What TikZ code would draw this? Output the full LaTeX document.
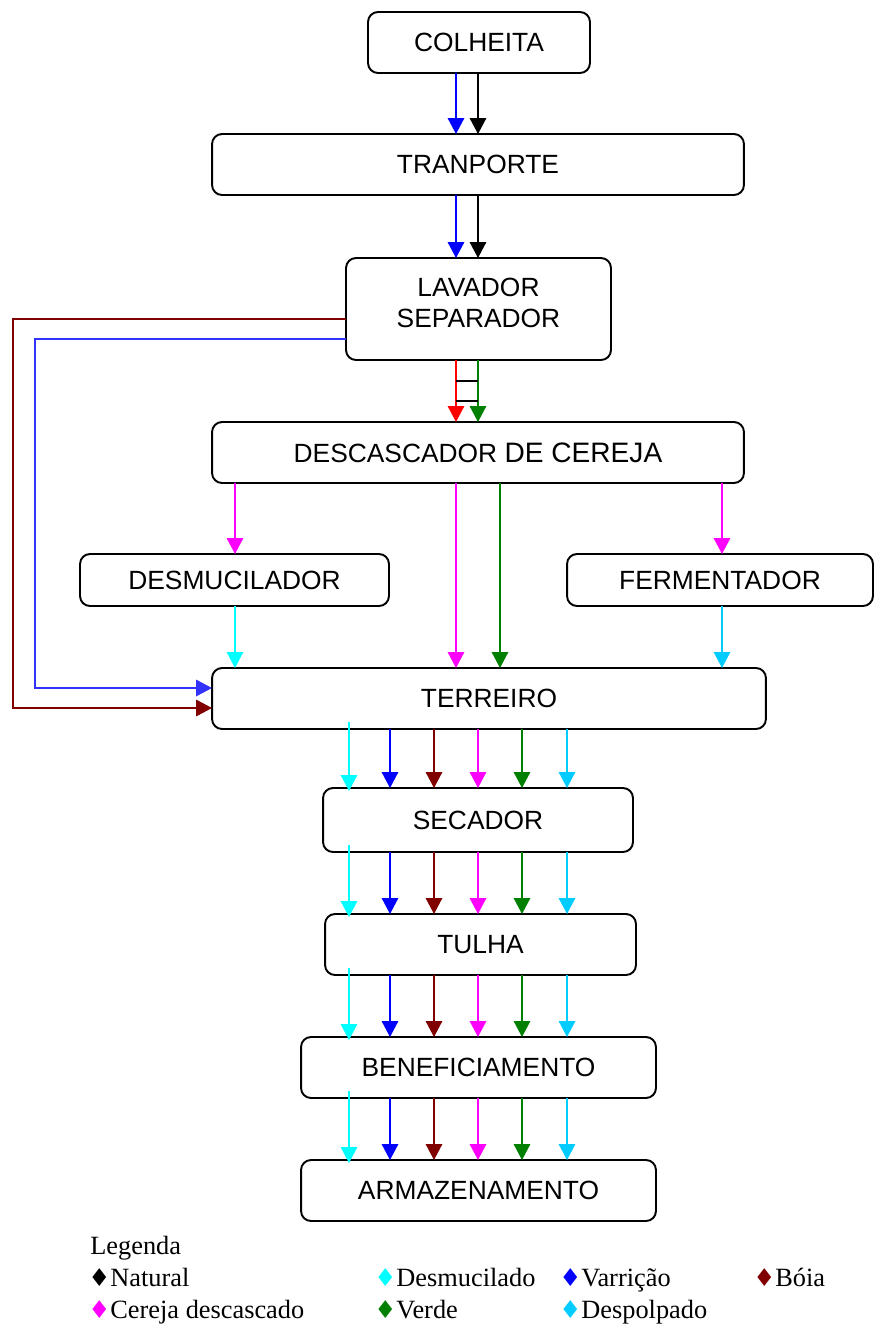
\documentclass[tikz,border=0pt]{standalone}
\usepackage{fontspec}
\setmainfont{Liberation Serif}
\newfontfamily\boxfont{Liberation Sans}
\newfontfamily\dejavufont{DejaVu Sans}
\usepackage{xcolor}
\definecolor{cf_natural}{RGB}{0, 0, 0}
\definecolor{cf_desmuc}{RGB}{0, 255, 255}
\definecolor{cf_varricao}{RGB}{0, 0, 255}
\definecolor{cf_boia}{RGB}{128, 0, 0}
\definecolor{cf_cereja}{RGB}{255, 0, 255}
\definecolor{cf_verde}{RGB}{0, 128, 0}
\definecolor{cf_despolpa}{RGB}{0, 204, 255}
\definecolor{cf_vermelho}{RGB}{255, 0, 0}
\usetikzlibrary{arrows.meta}
\newcommand{\losango}[1]{{\dejavufont\fontsize{14}{14}\selectfont\textcolor{#1}{♦}}}

\begin{document}
\begin{tikzpicture}[x=0.02cm, y=-0.02cm,
        caixa/.style={draw, line width=1.1pt, rounded corners=0.2cm,
                      inner sep=0pt, outer sep=0pt, align=center,
                      font=\boxfont\fontsize{15}{17.6}\selectfont},
        seta/.style={-{Triangle[length=0.32cm, width=0.33cm]}, line width=0.9pt},
        ovr/.style={shorten <=-0.14cm, shorten >=-0.06cm},
        sem/.style={},
        leg/.style={anchor=base west, inner sep=0pt,
                    font=\fontsize{15}{18}\selectfont}]
        \useasboundingbox (0,0) rectangle (874,1326);
        % Caixas
        \node[caixa, minimum width=4.44cm, minimum height=1.22cm] (colheita) at (479,42.5) {COLHEITA};
        \node[caixa, minimum width=10.64cm, minimum height=1.22cm] (tranporte) at (478,164.5) {TRANPORTE};
        \node[caixa, minimum width=5.3cm, minimum height=2.04cm, text depth=0.24cm] (lavador) at (478.5,309) {LAVADOR\\SEPARADOR};
        \node[caixa, minimum width=10.64cm, minimum height=1.22cm] (descasc) at (478,452.5)
          {DESCASCADOR {\fontsize{16}{18}\selectfont DE CEREJA}};
        \node[caixa, minimum width=6.18cm, minimum height=1.04cm] (desmuc) at (234.5,580) {DESMUCILADOR};
        \node[caixa, minimum width=6.12cm, minimum height=1.04cm] (ferment) at (720,580) {FERMENTADOR};
        \node[caixa, minimum width=11.08cm, minimum height=1.22cm] (terreiro) at (489,698.5) {TERREIRO};
        \node[caixa, minimum width=6.2cm, minimum height=1.28cm] (secador) at (478,820) {SECADOR};
        \node[caixa, minimum width=6.22cm, minimum height=1.22cm] (tulha) at (480.5,944.5) {TULHA};
        \node[caixa, minimum width=7.1cm, minimum height=1.22cm] (benef) at (478.5,1067.5) {BENEFICIAMENTO};
        \node[caixa, minimum width=7.1cm, minimum height=1.22cm] (armaz) at (478.5,1190.5) {ARMAZENAMENTO};
        % Colunas
        \coordinate (ka) at (456,0);
        \coordinate (kb) at (478,0);
        \coordinate (kc) at (500,0);
        \coordinate (kd) at (235,0);
        \coordinate (ke) at (722,0);
        \coordinate (c1) at (349,0);
        \coordinate (c2) at (390,0);
        \coordinate (c3) at (434,0);
        \coordinate (c4) at (478,0);
        \coordinate (c5) at (522,0);
        \coordinate (c6) at (567,0);
        % Setas do topo
        \draw[seta, cf_varricao] (colheita.south -| ka) -- (tranporte.north -| ka);
        \draw[seta, cf_natural] (colheita.south -| kb) -- (tranporte.north -| kb);
        \draw[seta, cf_varricao] (tranporte.south -| ka) -- (lavador.north -| ka);
        \draw[seta, cf_natural] (tranporte.south -| kb) -- (lavador.north -| kb);
        \draw[seta, cf_vermelho] (lavador.south -| ka) -- (descasc.north -| ka);
        \draw[seta, cf_verde] (lavador.south -| kb) -- (descasc.north -| kb);
        \draw[line width=1.1pt] (lavador.south -| ka) ++(0,21) -- ++(22,0);
        \draw[line width=1.1pt] (lavador.south -| ka) ++(0,41) -- ++(22,0);
        % Retornos ao terreiro
        \draw[seta, cf_boia] ([yshift=-0.2cm]lavador.west) -- ++(-333,0) |- ([yshift=-0.19cm]terreiro.west);
        \draw[seta, cf_varricao!80!white] ([yshift=-0.6cm]lavador.west) -- ++(-311,0) |- ([yshift=0.21cm]terreiro.west);
        % Descascador
        \draw[seta, cf_cereja] (descasc.south -| kd) -- (desmuc.north -| kd);
        \draw[seta, cf_cereja] (descasc.south -| ke) -- (ferment.north -| ke);
        \draw[seta, cf_cereja] (descasc.south -| ka) -- (terreiro.north -| ka);
        \draw[seta, cf_verde] (descasc.south -| kc) -- (terreiro.north -| kc);
        \draw[seta, cf_desmuc] (desmuc.south -| kd) -- (terreiro.north -| kd);
        \draw[seta, cf_despolpa] (ferment.south -| ke) -- (terreiro.north -| ke);
        % Setas de baixo
        \foreach \de/\para in {terreiro/secador, secador/tulha, tulha/benef, benef/armaz} {
          \foreach \k/\cor/\ext in {1/cf_desmuc/ovr, 2/cf_varricao/sem, 3/cf_boia/sem,
                                    4/cf_cereja/sem, 5/cf_verde/sem, 6/cf_despolpa/sem}
            \draw[seta, \cor, \ext] (\de.south -| c\k) -- (\para.north -| c\k);
        }
        % Legenda
        \node[leg] (legenda) at (90,1254) {Legenda};
        \node[leg] (lnatural) at (88,1286) {\losango{cf_natural}Natural};
        \node[leg] (ldesmuc) at (374,1286) {\losango{cf_desmuc}Desmucilado};
        \node[leg] (lvarricao) at (559,1286) {\losango{cf_varricao}Varrição};
        \node[leg] (lboia) at (753,1286) {\losango{cf_boia}Bóia};
        \node[leg] (lcereja) at (88,1318) {\losango{cf_cereja}Cereja descascado};
        \node[leg] (lverde) at (374,1318) {\losango{cf_verde}Verde};
        \node[leg] (ldespolpa) at (559,1318) {\losango{cf_despolpa}Despolpado};
      \end{tikzpicture}
\end{document}
